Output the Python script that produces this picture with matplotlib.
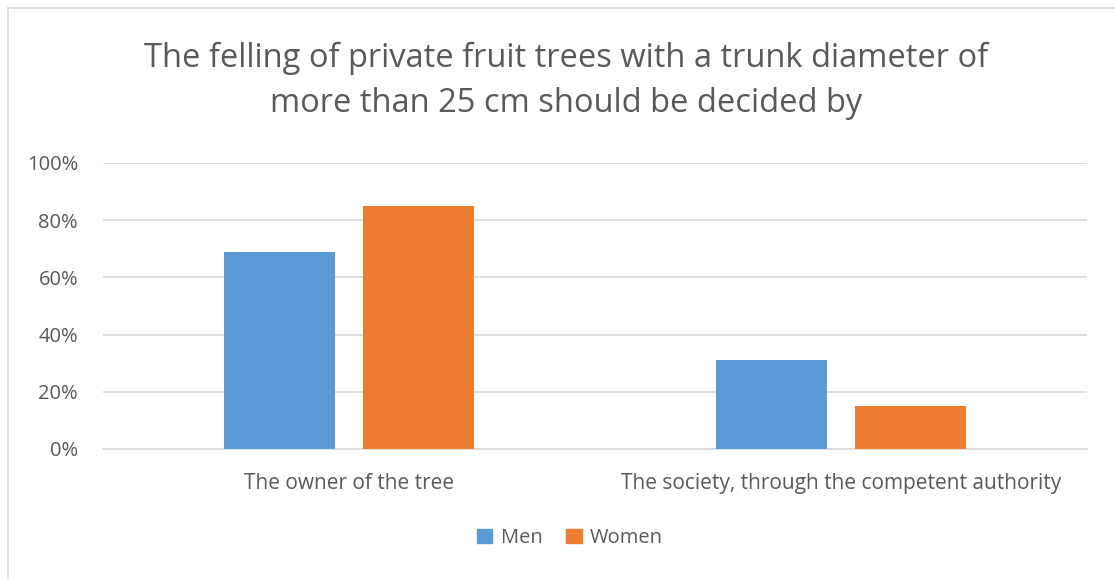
import matplotlib
matplotlib.use("Agg")
import matplotlib.pyplot as plt
from matplotlib.lines import Line2D
import numpy as np

categories = ["The owner of the tree", "The society, through the competent authority"]
series_names = ["Men", "Women"]
men = [0.69, 0.31]
women = [0.85, 0.15]
yticks = [0, 0.2, 0.4, 0.6, 0.8, 1.0]
ytick_labels = ["0%", "20%", "40%", "60%", "80%", "100%"]
title = "The felling of private fruit trees with a trunk diameter of\nmore than 25 cm should be decided by"

colors = ["#5B9BD5", "#ED7D31"]
text_color = "#595959"
plt.rcParams['font.family'] = ['Open Sans', 'DejaVu Sans']

W, H = 1115, 579
fig = plt.figure(figsize=(W/100, H/100), dpi=100)
ax = fig.add_axes([103/W, 1-449/H, (1087-103)/W, (449-163)/H])

x = np.arange(len(categories))
bw = 0.2256
off = 0.142
ax.bar(x - off, men, bw, color=colors[0], label=series_names[0], zorder=3)
ax.bar(x + off, women, bw, color=colors[1], label=series_names[1], zorder=3)

ax.set_xlim(-0.5, 1.5)
ax.set_ylim(0, 1.0)
ax.set_yticks(yticks)
ax.set_yticklabels(ytick_labels, color=text_color, fontsize=14.5)
ax.set_xticks(x)
ax.set_xticklabels(categories, color=text_color, fontsize=15)
ax.tick_params(axis='y', length=0, pad=18)
ax.tick_params(axis='x', length=0, pad=17)
ax.yaxis.grid(True, color="#D9D9D9", linewidth=1.2, zorder=0)
for s in ["top", "right", "left"]:
    ax.spines[s].set_visible(False)
ax.spines["bottom"].set_color("#D9D9D9")
ax.spines["bottom"].set_linewidth(1.2)

fig.text(566/W, 1-81/H, title, ha="center", va="center", fontsize=23.5,
         color=text_color, linespacing=1.5)

handles = [plt.Rectangle((0, 0), 1, 1, color=c) for c in colors]
fig.legend(handles, series_names, loc="center", bbox_to_anchor=(570/W, 1-538/H),
           ncol=2, frameon=False, fontsize=14.5, labelcolor=text_color,
           handlelength=0.75, handleheight=0.75, handletextpad=0.4, columnspacing=1.2)

fig.add_artist(Line2D([8/W, 8/W], [0, 1-8/H], transform=fig.transFigure, color="#D9D9D9", lw=1.2))
fig.add_artist(Line2D([8/W, 1], [1-8/H, 1-8/H], transform=fig.transFigure, color="#D9D9D9", lw=1.2))

fig.savefig("out.png", dpi=100, facecolor="white")
